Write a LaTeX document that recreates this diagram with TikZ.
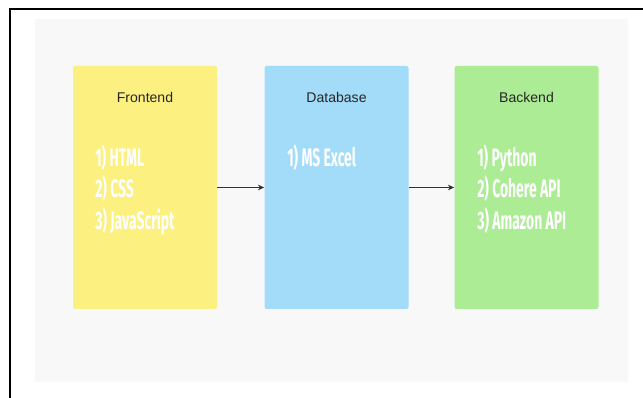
\documentclass[tikz,border=0pt]{standalone}
\usepackage{fontspec}
\setmainfont{Liberation Sans}
\newfontfamily\handfont[FakeStretch=0.55]{Fira Sans Bold}
\usetikzlibrary{arrows.meta}

\definecolor{panelgray}{RGB}{248,248,248}
\definecolor{frontyellow}{RGB}{252,240,128}
\definecolor{dbblue}{RGB}{162,220,248}
\definecolor{backgreen}{RGB}{171,236,148}
\definecolor{arrowgray}{RGB}{50,50,50}

\begin{document}
\begin{tikzpicture}[x=0.025cm, y=-0.025cm,
    block/.style={rounded corners=1.5pt, minimum width=144*0.025cm, minimum height=243*0.025cm, inner sep=0pt},
    title/.style={font=\fontsize{10}{12}\selectfont, text=black!85},
    items/.style={anchor=north west, align=left, text=white, inner sep=0pt,
        font=\handfont\fontsize{18}{22.7}\selectfont},
    link/.style={-{Stealth[length=4.5pt,width=4pt]}, arrowgray, line width=0.85pt}]
\useasboundingbox (0,0) rectangle (643,398);
% outer frame (top and left edge only)
\draw [line width=1.4pt, black] (10,398) -- (10,9) -- (643,9);
% panel
\fill [panelgray] (35,19) rectangle (628,382);
% blocks
\node[block, fill=frontyellow] (frontend) at (145,187.5) {};
\node[block, fill=dbblue] (database) at (336.5,187.5) {};
\node[block, fill=backgreen] (backend) at (526.5,187.5) {};
% titles
\node[title] (fronttitle) at (145,97) {Frontend};
\node[title] (dbtitle) at (336.5,97) {Database};
\node[title] (backtitle) at (526.5,97) {Backend};
% contents
\node[items] (frontitems) at (95,144) {1) HTML\\2) CSS\\3) JavaScript};
\node[items] (dbitems) at (287,144) {1) MS Excel};
\node[items] (backitems) at (477,144) {1) Python\\2) Cohere API\\3) Amazon API};
% connectors
\draw [link] (frontend.east) -- (database.west);
\draw [link] (database.east) -- (backend.west);
\end{tikzpicture}
\end{document}
